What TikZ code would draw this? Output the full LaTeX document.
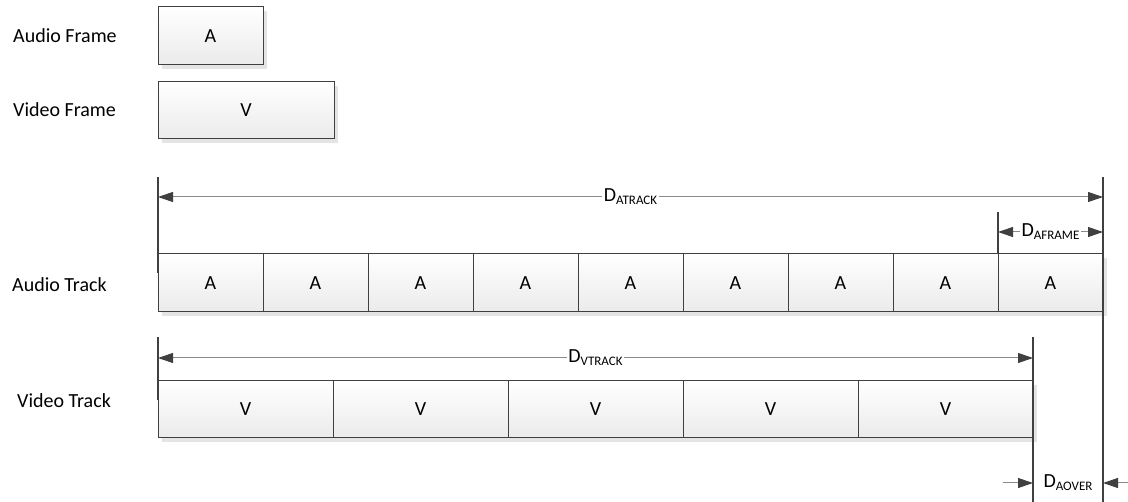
\documentclass[tikz,border=0pt]{standalone}
\usepackage{fontspec}
\setmainfont{Carlito}
\usetikzlibrary{arrows.meta,shadows}
\definecolor{edge}{HTML}{404040}
\definecolor{dimline}{HTML}{8A8A8A}
\definecolor{shadegray}{HTML}{E4E4E4}
\definecolor{txt}{HTML}{000000}
\newcommand\dsub[1]{\raisebox{-3pt}{\fontsize{13}{13}\selectfont #1}}
\begin{document}
\begin{tikzpicture}[x=1pt,y=-1pt,
  frame/.style={draw=edge, line width=1pt, top color=white, bottom color=black!8,
    drop shadow={shadow xshift=4pt,shadow yshift=-4pt,fill=shadegray,opacity=1},
    font=\fontsize{20}{24}\selectfont, text=txt, inner sep=0pt, outer sep=0pt, anchor=north west},
  lbl/.style={font=\fontsize{20}{24}\selectfont, text=txt, inner sep=0pt, anchor=base west},
  ext/.style={draw=edge, line width=1.6pt},
  dim/.style={draw=dimline, line width=1pt},
  tip/.style={-{Triangle[length=15pt,width=10pt,color=edge]}},
  tips/.style={{Triangle[length=15pt,width=10pt,color=edge]}-{Triangle[length=15pt,width=10pt,color=edge]}},
  dlab/.style={font=\fontsize{20}{24}\selectfont, text=txt, fill=white, inner sep=1.5pt, anchor=base}
]
\useasboundingbox (0,0) rectangle (1128,502);

% single frames
\node[frame, minimum width=105pt, minimum height=58pt] (af) at (158,7) {A};
\node[frame, minimum width=176pt, minimum height=57pt] (vf) at (158,82) {V};

% tracks
\foreach \i in {1,...,9}
  \node[frame, minimum width=105pt, minimum height=58pt] (a\i) at ({158+105*(\i-1)},254) {A};
\foreach \i in {1,...,5}
  \node[frame, minimum width=175pt, minimum height=57pt] (v\i) at ({158+175*(\i-1)},381) {V};

% row labels
\node[lbl] (laf) at (13,43) {Audio Frame};
\node[lbl] (lvf) at (13,117) {Video Frame};
\node[lbl] (lat) at (12,292) {Audio Track};
\node[lbl] (lvt) at (17,408) {Video Track};

% extension lines
\coordinate (e1t) at (158,177);  \coordinate (e1b) at (158,273);
\coordinate (e2t) at (1103,177); \coordinate (e2b) at (1103,502);
\coordinate (e3t) at (998,212);  \coordinate (e3b) at (998,254);
\coordinate (e4t) at (158,337);  \coordinate (e4b) at (158,400);
\coordinate (e5t) at (1033,337); \coordinate (e5b) at (1033,502);
\draw[ext] (e1t) -- (e1b);
\draw[ext] (e2t) -- (e2b);
\draw[ext] (e3t) -- (e3b);
\draw[ext] (e4t) -- (e4b);
\draw[ext] (e5t) -- (e5b);

% dimension arrows
\coordinate (atl) at (158,197);  \coordinate (atr) at (1103,197);
\coordinate (afl) at (998,232);  \coordinate (afr) at (1103,232);
\coordinate (vtl) at (158,358);  \coordinate (vtr) at (1033,358);
\coordinate (aol) at (1003,483); \coordinate (aolt) at (1033,483);
\coordinate (aor) at (1128,483); \coordinate (aort) at (1103,483);

\draw[dim, tips] (atl) -- (atr);
\node[dlab] (datrack) at (630.5,202) {D\dsub{ATRACK}};
\draw[dim, tips] (afl) -- (afr);
\node[dlab] (daframe) at (1050.5,237) {D\dsub{AFRAME}};
\draw[dim, tips] (vtl) -- (vtr);
\node[dlab] (dvtrack) at (595.5,363) {D\dsub{VTRACK}};
\draw[dim, tip] (aol) -- (aolt);
\draw[dim, tip] (aor) -- (aort);
\node[dlab, fill=none] (daover) at (1068,488) {D\dsub{AOVER}};
\end{tikzpicture}
\end{document}
